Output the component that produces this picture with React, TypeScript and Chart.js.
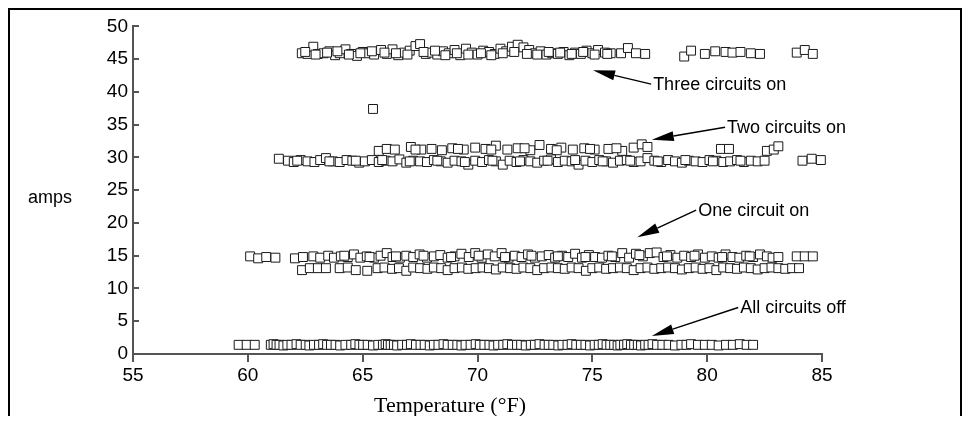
import React, { useEffect, useRef } from "react";
import { Chart, registerables } from "chart.js";

Chart.register(...registerables);

// ---- data: [temperature °F, amps] ----
const offPoints: [number, number][] = [
  [59.6, 1.4], [59.95, 1.4], [60.3, 1.4],
  [61.0, 1.4], [61.12, 1.5], [61.25, 1.4], [61.38, 1.4], [61.55, 1.3], [61.72, 1.4], [61.9, 1.4], [62.12, 1.5], [62.3, 1.4], [62.52, 1.4],
  [62.68, 1.3], [62.88, 1.4], [63.1, 1.4], [63.28, 1.5], [63.45, 1.4], [63.62, 1.4], [63.82, 1.4], [64.02, 1.3], [64.25, 1.4], [64.5, 1.4],
  [64.68, 1.5], [64.86, 1.4], [65.02, 1.4], [65.22, 1.4], [65.45, 1.3], [65.68, 1.4], [65.88, 1.4], [66.0, 1.5], [66.1, 1.4], [66.22, 1.4],
  [66.36, 1.4], [66.5, 1.3], [66.72, 1.4], [66.93, 1.4], [67.1, 1.5], [67.32, 1.4], [67.52, 1.4], [67.7, 1.4], [67.92, 1.3], [68.1, 1.4],
  [68.3, 1.4], [68.52, 1.5], [68.7, 1.4], [68.92, 1.4], [69.12, 1.4], [69.3, 1.3], [69.48, 1.4], [69.7, 1.4], [69.92, 1.5], [70.1, 1.4],
  [70.3, 1.4], [70.52, 1.4], [70.7, 1.3], [70.9, 1.4], [71.12, 1.4], [71.3, 1.5], [71.5, 1.4], [71.72, 1.4], [71.9, 1.4], [72.1, 1.3],
  [72.32, 1.4], [72.5, 1.4], [72.7, 1.5], [72.92, 1.4], [73.1, 1.4], [73.3, 1.4], [73.52, 1.3], [73.7, 1.4], [73.92, 1.4], [74.1, 1.5],
  [74.3, 1.4], [74.5, 1.4], [74.7, 1.4], [74.9, 1.3], [75.1, 1.4], [75.28, 1.4], [75.45, 1.5], [75.62, 1.4], [75.78, 1.4], [75.95, 1.4],
  [76.1, 1.3], [76.22, 1.4], [76.38, 1.4], [76.52, 1.5], [76.68, 1.4], [76.82, 1.4], [76.98, 1.4], [77.12, 1.3], [77.3, 1.4], [77.45, 1.4],
  [77.62, 1.5], [77.82, 1.4], [78.05, 1.4], [78.32, 1.4], [78.6, 1.3], [78.88, 1.4], [79.1, 1.4], [79.3, 1.5], [79.6, 1.4], [79.9, 1.4],
  [80.2, 1.4], [80.5, 1.3], [80.82, 1.4], [81.12, 1.4], [81.42, 1.5], [81.72, 1.4], [82.0, 1.4],
];

const oneUpperPoints: [number, number][] = [
  [60.1, 14.9], [60.45, 14.6], [60.8, 14.8], [61.2, 14.7], [62.05, 14.6], [62.4, 14.8], [62.85, 14.9], [63.15, 14.7], [63.5, 15.0],
  [63.75, 14.7], [64.05, 14.9], [64.35, 14.8], [64.62, 15.2], [64.9, 14.7], [65.18, 14.9], [65.5, 14.7], [65.78, 15.0], [66.05, 15.4],
  [66.3, 14.8], [66.62, 14.7], [66.9, 15.0], [67.2, 14.8], [67.48, 15.2], [67.8, 14.7], [68.1, 14.9], [68.38, 15.1], [68.7, 14.7],
  [69.0, 14.9], [69.3, 15.3], [69.62, 14.8], [69.9, 15.4], [70.18, 14.7], [70.45, 15.2], [70.75, 14.9], [71.05, 15.4], [71.35, 14.7],
  [71.62, 15.0], [71.92, 14.8], [72.2, 15.2], [72.5, 14.7], [72.8, 14.9], [73.1, 15.1], [73.38, 14.7], [73.68, 15.0], [73.95, 14.8],
  [74.25, 15.3], [74.55, 14.7], [74.85, 15.1], [75.12, 14.8], [75.42, 14.7], [75.7, 15.0], [76.0, 14.8], [76.3, 15.4], [76.6, 14.7],
  [76.9, 15.3], [77.2, 14.9], [77.5, 15.4], [77.8, 15.5], [78.1, 14.8], [78.4, 15.1], [78.7, 14.7], [79.0, 15.0], [79.3, 14.8],
  [79.6, 15.2], [79.9, 14.7], [80.2, 14.9], [80.5, 14.7], [80.8, 15.2], [81.1, 14.8], [81.4, 14.7], [81.7, 15.0], [82.0, 14.8],
  [82.3, 15.2], [82.6, 14.9], [82.85, 14.7], [83.1, 14.8], [83.9, 14.9], [84.25, 14.9], [84.6, 14.9],
  [64.2, 15.0], [65.3, 14.8], [66.45, 14.9], [67.65, 15.0], [68.85, 14.8], [70.05, 15.0], [71.2, 14.8], [72.35, 15.0], [73.5, 14.9],
  [74.7, 14.8], [75.85, 14.9], [77.05, 15.1], [78.25, 14.9], [79.45, 15.0], [80.65, 14.8], [81.85, 14.9],
];

const oneLowerPoints: [number, number][] = [
  [62.36, 12.8], [62.7, 13.1], [63.05, 13.1], [63.4, 13.1], [64.0, 13.1], [64.35, 13.2], [64.7, 12.8], [65.2, 12.7], [65.65, 13.1],
  [65.95, 13.2], [66.28, 13.0], [66.58, 13.1], [66.9, 12.7], [67.2, 13.2], [67.5, 13.1], [67.82, 13.0], [68.1, 13.2], [68.42, 13.1],
  [68.7, 12.8], [69.0, 13.1], [69.32, 13.2], [69.6, 13.0], [69.92, 13.1], [70.22, 13.2], [70.5, 13.1], [70.8, 12.9], [71.1, 13.2],
  [71.42, 13.1], [71.7, 13.0], [72.0, 13.2], [72.3, 13.1], [72.6, 12.8], [72.9, 13.1], [73.22, 13.2], [73.5, 13.1], [73.8, 13.0],
  [74.1, 13.2], [74.4, 13.1], [74.72, 12.7], [75.0, 13.1], [75.3, 13.2], [75.6, 13.0], [75.9, 13.1], [76.2, 13.2], [76.5, 13.1],
  [76.8, 12.8], [77.1, 13.1], [77.4, 13.2], [77.7, 13.0], [78.0, 13.1], [78.3, 13.2], [78.6, 13.1], [78.9, 12.9], [79.2, 13.1],
  [79.5, 13.2], [79.8, 13.0], [80.1, 13.1], [80.4, 12.8], [80.7, 13.2], [81.0, 13.1], [81.3, 13.0], [81.6, 13.2], [81.9, 13.1],
  [82.2, 12.9], [82.5, 13.1], [82.8, 13.2], [83.1, 13.1], [83.4, 13.0], [83.7, 13.1], [84.0, 13.1],
];

const twoLowerPoints: [number, number][] = [
  [61.35, 29.8], [61.75, 29.5], [62.0, 29.3], [62.3, 29.6], [62.6, 29.4], [62.9, 29.3], [63.15, 29.6], [63.4, 29.9], [63.7, 29.4],
  [64.0, 29.3], [64.3, 29.6], [64.55, 29.5], [64.85, 29.2], [65.1, 29.4], [65.4, 29.6], [65.7, 29.3], [66.0, 29.5], [66.3, 29.4],
  [66.6, 29.7], [66.9, 29.2], [67.2, 29.5], [67.5, 29.4], [67.8, 29.3], [68.1, 29.6], [68.4, 29.4], [68.7, 29.2], [69.0, 29.5],
  [69.3, 29.4], [69.6, 28.9], [69.9, 29.5], [70.2, 29.3], [70.5, 29.6], [70.8, 29.4], [71.1, 28.9], [71.4, 29.5], [71.7, 29.3],
  [72.0, 29.6], [72.3, 29.4], [72.6, 29.2], [72.9, 29.5], [73.2, 29.7], [73.5, 29.3], [73.8, 29.5], [74.1, 29.4], [74.4, 28.9],
  [74.7, 29.5], [75.0, 29.3], [75.3, 29.6], [75.6, 29.4], [75.9, 29.2], [76.2, 29.5], [76.5, 29.6], [76.8, 29.3], [77.1, 29.4],
  [77.4, 29.9], [77.7, 29.5], [78.0, 29.3], [78.3, 29.6], [78.6, 29.4], [78.9, 29.2], [79.2, 29.5], [79.5, 29.4], [79.8, 29.3],
  [80.1, 29.6], [80.4, 29.5], [80.7, 29.3], [81.0, 29.4], [81.3, 29.6], [81.6, 29.3], [81.9, 29.5], [82.2, 29.4], [82.5, 29.5],
  [84.15, 29.5], [84.55, 29.8], [84.95, 29.6],
  [62.15, 29.5], [63.55, 29.4], [64.7, 29.5], [65.85, 29.6], [67.05, 29.4], [68.25, 29.5], [69.45, 29.3], [70.65, 29.5],
  [71.85, 29.4], [73.05, 29.5], [74.25, 29.6], [75.45, 29.4], [76.65, 29.5], [77.85, 29.4], [79.05, 29.6], [80.25, 29.4],
  [81.45, 29.5],
];

const twoUpperPoints: [number, number][] = [
  [65.7, 31.0], [66.05, 31.3], [66.4, 31.2], [67.1, 31.6], [67.55, 31.2], [68.0, 31.3], [68.45, 31.1], [68.9, 31.4], [69.4, 31.2],
  [69.9, 31.5], [70.35, 31.3], [70.8, 31.8], [71.3, 31.2], [71.75, 31.4], [72.3, 31.1], [72.7, 31.9], [73.2, 31.3], [73.65, 31.5],
  [74.15, 31.2], [74.65, 31.4], [75.1, 31.2], [75.7, 31.3], [76.3, 31.0], [76.8, 31.5], [77.15, 32.0], [77.4, 31.6], [80.6, 31.3],
  [80.95, 31.3], [82.6, 31.0], [82.9, 31.2], [83.1, 31.7],
  [67.3, 31.2], [69.15, 31.3], [70.6, 31.2], [72.05, 31.4], [73.45, 31.1], [74.9, 31.3], [76.05, 31.4],
];

const threePoints: [number, number][] = [
  [62.35, 45.9], [62.6, 45.8], [62.85, 46.9], [63.05, 45.8], [63.3, 45.9], [63.55, 46.2], [63.8, 45.6], [64.0, 45.9], [64.25, 46.5],
  [64.5, 45.8], [64.75, 45.5], [65.0, 46.1], [65.25, 45.9], [65.5, 45.7], [65.8, 46.4], [66.05, 45.8], [66.3, 46.5], [66.55, 45.6],
  [66.8, 46.0], [67.05, 46.3], [67.3, 47.0], [67.5, 47.3], [67.75, 45.8], [68.0, 46.0], [68.25, 45.7], [68.5, 46.2], [68.75, 45.9],
  [69.0, 46.4], [69.25, 45.6], [69.5, 46.6], [69.75, 46.0], [70.0, 45.7], [70.25, 46.3], [70.5, 46.1], [70.75, 45.8], [71.0, 46.6],
  [71.25, 46.2], [71.5, 46.9], [71.75, 47.2], [72.0, 46.8], [72.25, 46.4], [72.5, 45.9], [72.75, 46.2], [73.0, 45.7], [73.25, 45.9],
  [73.5, 45.8], [73.75, 46.1], [74.0, 45.6], [74.25, 46.0], [74.5, 45.8], [74.75, 46.3], [75.0, 45.9], [75.25, 46.4], [75.55, 46.0],
  [75.8, 45.9], [76.25, 45.9], [76.55, 46.7], [76.9, 45.9], [77.3, 45.8], [79.0, 45.4], [79.3, 46.3], [79.9, 45.8], [80.35, 46.2],
  [80.8, 46.1], [81.1, 46.0], [81.45, 46.1], [81.9, 45.9], [82.3, 45.8], [83.9, 46.0], [84.25, 46.4], [84.6, 45.8],
  [62.5, 46.1], [62.95, 45.7], [63.45, 46.0], [63.9, 46.2], [64.4, 45.7], [64.9, 45.9], [65.4, 46.2], [65.95, 46.0], [66.45, 45.9],
  [66.95, 45.7], [67.65, 46.1], [68.15, 46.3], [68.6, 45.6], [69.1, 45.9], [69.6, 45.7], [70.15, 45.9], [70.6, 45.6], [71.1, 45.9],
  [71.6, 46.1], [72.15, 45.8], [72.6, 45.7], [73.1, 46.1], [73.6, 46.0], [74.1, 45.8], [74.6, 46.1], [75.1, 45.7], [75.65, 45.8],
];

const outlierPoints: [number, number][] = [[65.45, 37.4]];

const xTickValues = [55, 60, 65, 70, 75, 80, 85];
const yTickValues = [0, 5, 10, 15, 20, 25, 30, 35, 40, 45, 50];

// annotations: label, start of leader line (temp, amps), arrow tip (temp, amps)
const noteLabels = ["Three circuits on", "Two circuits on", "One circuit on", "All circuits off"];
const noteFromTemp = [77.56, 80.78, 79.52, 81.35];
const noteFromAmps = [41.2, 34.6, 21.95, 7.1];
const noteTipTemp = [75.03, 77.59, 76.96, 77.59];
const noteTipAmps = [43.3, 32.7, 17.8, 2.74];

const xTitle = "Temperature (°F)";
const yTitle = "amps";

const SANS = "'Liberation Sans', Arial, sans-serif";
const SERIF = "'Liberation Serif', 'Times New Roman', serif";

const CANVAS_W = 950;
const CANVAS_H = 406;

function toXY(pts: [number, number][]) {
  return pts.map(([x, y]) => ({ x, y }));
}

export default function App() {
  const ref = useRef<HTMLCanvasElement | null>(null);

  useEffect(() => {
    const canvas = ref.current;
    if (!canvas) return;

    const extras = {
      id: "extras",
      afterDraw(chart: any) {
        const ctx = chart.ctx as CanvasRenderingContext2D;
        const xs = chart.scales.x;
        const ys = chart.scales.y;
        const area = chart.chartArea;
        ctx.save();
        // inward y tick marks
        ctx.strokeStyle = "#555";
        ctx.lineWidth = 2;
        for (const v of yTickValues) {
          const py = Math.round(ys.getPixelForValue(v));
          ctx.beginPath();
          ctx.moveTo(area.left, py);
          ctx.lineTo(area.left + 6, py);
          ctx.stroke();
        }
        // annotations
        ctx.fillStyle = "#000";
        ctx.strokeStyle = "#000";
        ctx.font = `18px ${SANS}`;
        ctx.textAlign = "left";
        ctx.textBaseline = "middle";
        for (let i = 0; i < noteLabels.length; i++) {
          const x0 = xs.getPixelForValue(noteFromTemp[i]);
          const y0 = ys.getPixelForValue(noteFromAmps[i]);
          const x1 = xs.getPixelForValue(noteTipTemp[i]);
          const y1 = ys.getPixelForValue(noteTipAmps[i]);
          const ang = Math.atan2(y1 - y0, x1 - x0);
          const len = 22;
          const half = 5;
          const bx = x1 - len * Math.cos(ang);
          const by = y1 - len * Math.sin(ang);
          ctx.lineWidth = 1.4;
          ctx.beginPath();
          ctx.moveTo(x0, y0);
          ctx.lineTo(bx, by);
          ctx.stroke();
          ctx.beginPath();
          ctx.moveTo(x1, y1);
          ctx.lineTo(bx - half * Math.sin(ang), by + half * Math.cos(ang));
          ctx.lineTo(bx + half * Math.sin(ang), by - half * Math.cos(ang));
          ctx.closePath();
          ctx.fill();
          ctx.fillText(noteLabels[i], x0 + 2, y0 + 1);
        }
        // axis titles
        ctx.font = `18px ${SANS}`;
        ctx.textAlign = "left";
        ctx.fillText(yTitle, 18, 188);
        ctx.font = `22px ${SERIF}`;
        ctx.textAlign = "center";
        ctx.fillText(xTitle, 440, 396);
        ctx.restore();
      },
    };

    const ds = (pts: [number, number][]) => ({
      data: toXY(pts),
      pointStyle: "rect" as const,
      pointRadius: 6.3,
      pointHoverRadius: 6.3,
      borderWidth: 1,
      borderColor: "#1a1a1a",
      backgroundColor: "#ffffff",
      showLine: false,
      clip: false as const,
    });

    const chart = new Chart(canvas, {
      type: "scatter",
      data: {
        datasets: [
          ds(offPoints),
          ds(oneLowerPoints),
          ds(oneUpperPoints),
          ds(twoLowerPoints),
          ds(twoUpperPoints),
          ds(outlierPoints),
          ds(threePoints),
        ],
      },
      options: {
        animation: false,
        responsive: false,
        events: [],
        layout: { padding: { left: 0, right: CANVAS_W - 812, top: 16, bottom: 0 } },
        plugins: { legend: { display: false }, tooltip: { enabled: false } },
        scales: {
          x: {
            type: "linear",
            min: 55,
            max: 85,
            afterFit: (s: any) => {
              s.height = CANVAS_H - 344;
            },
            afterBuildTicks: (s: any) => {
              s.ticks = xTickValues.map((v) => ({ value: v }));
            },
            ticks: {
              color: "#000",
              font: { family: SANS, size: 19 },
              padding: 2,
              autoSkip: false,
              maxRotation: 0,
            },
            grid: {
              display: true,
              drawOnChartArea: false,
              drawTicks: true,
              tickLength: 8,
              color: "#555",
              lineWidth: 2,
            },
            border: { display: true, color: "#555", width: 2 },
          },
          y: {
            type: "linear",
            min: 0,
            max: 50,
            afterFit: (s: any) => {
              s.width = 123;
            },
            afterBuildTicks: (s: any) => {
              s.ticks = yTickValues.map((v) => ({ value: v }));
            },
            ticks: {
              color: "#000",
              font: { family: SANS, size: 19 },
              padding: 5,
              autoSkip: false,
            },
            grid: { display: false, drawTicks: false },
            border: { display: true, color: "#555", width: 2 },
          },
        },
      },
      plugins: [extras],
    });

    return () => chart.destroy();
  }, []);

  return (
    <div
      style={{
        borderTop: "2px solid #000",
        borderLeft: "2px solid #000",
        borderRight: "2px solid #000",
        height: CANVAS_H,
        background: "#fff",
      }}
    >
      <canvas ref={ref} width={CANVAS_W} height={CANVAS_H} style={{ display: "block" }} />
    </div>
  );
}
